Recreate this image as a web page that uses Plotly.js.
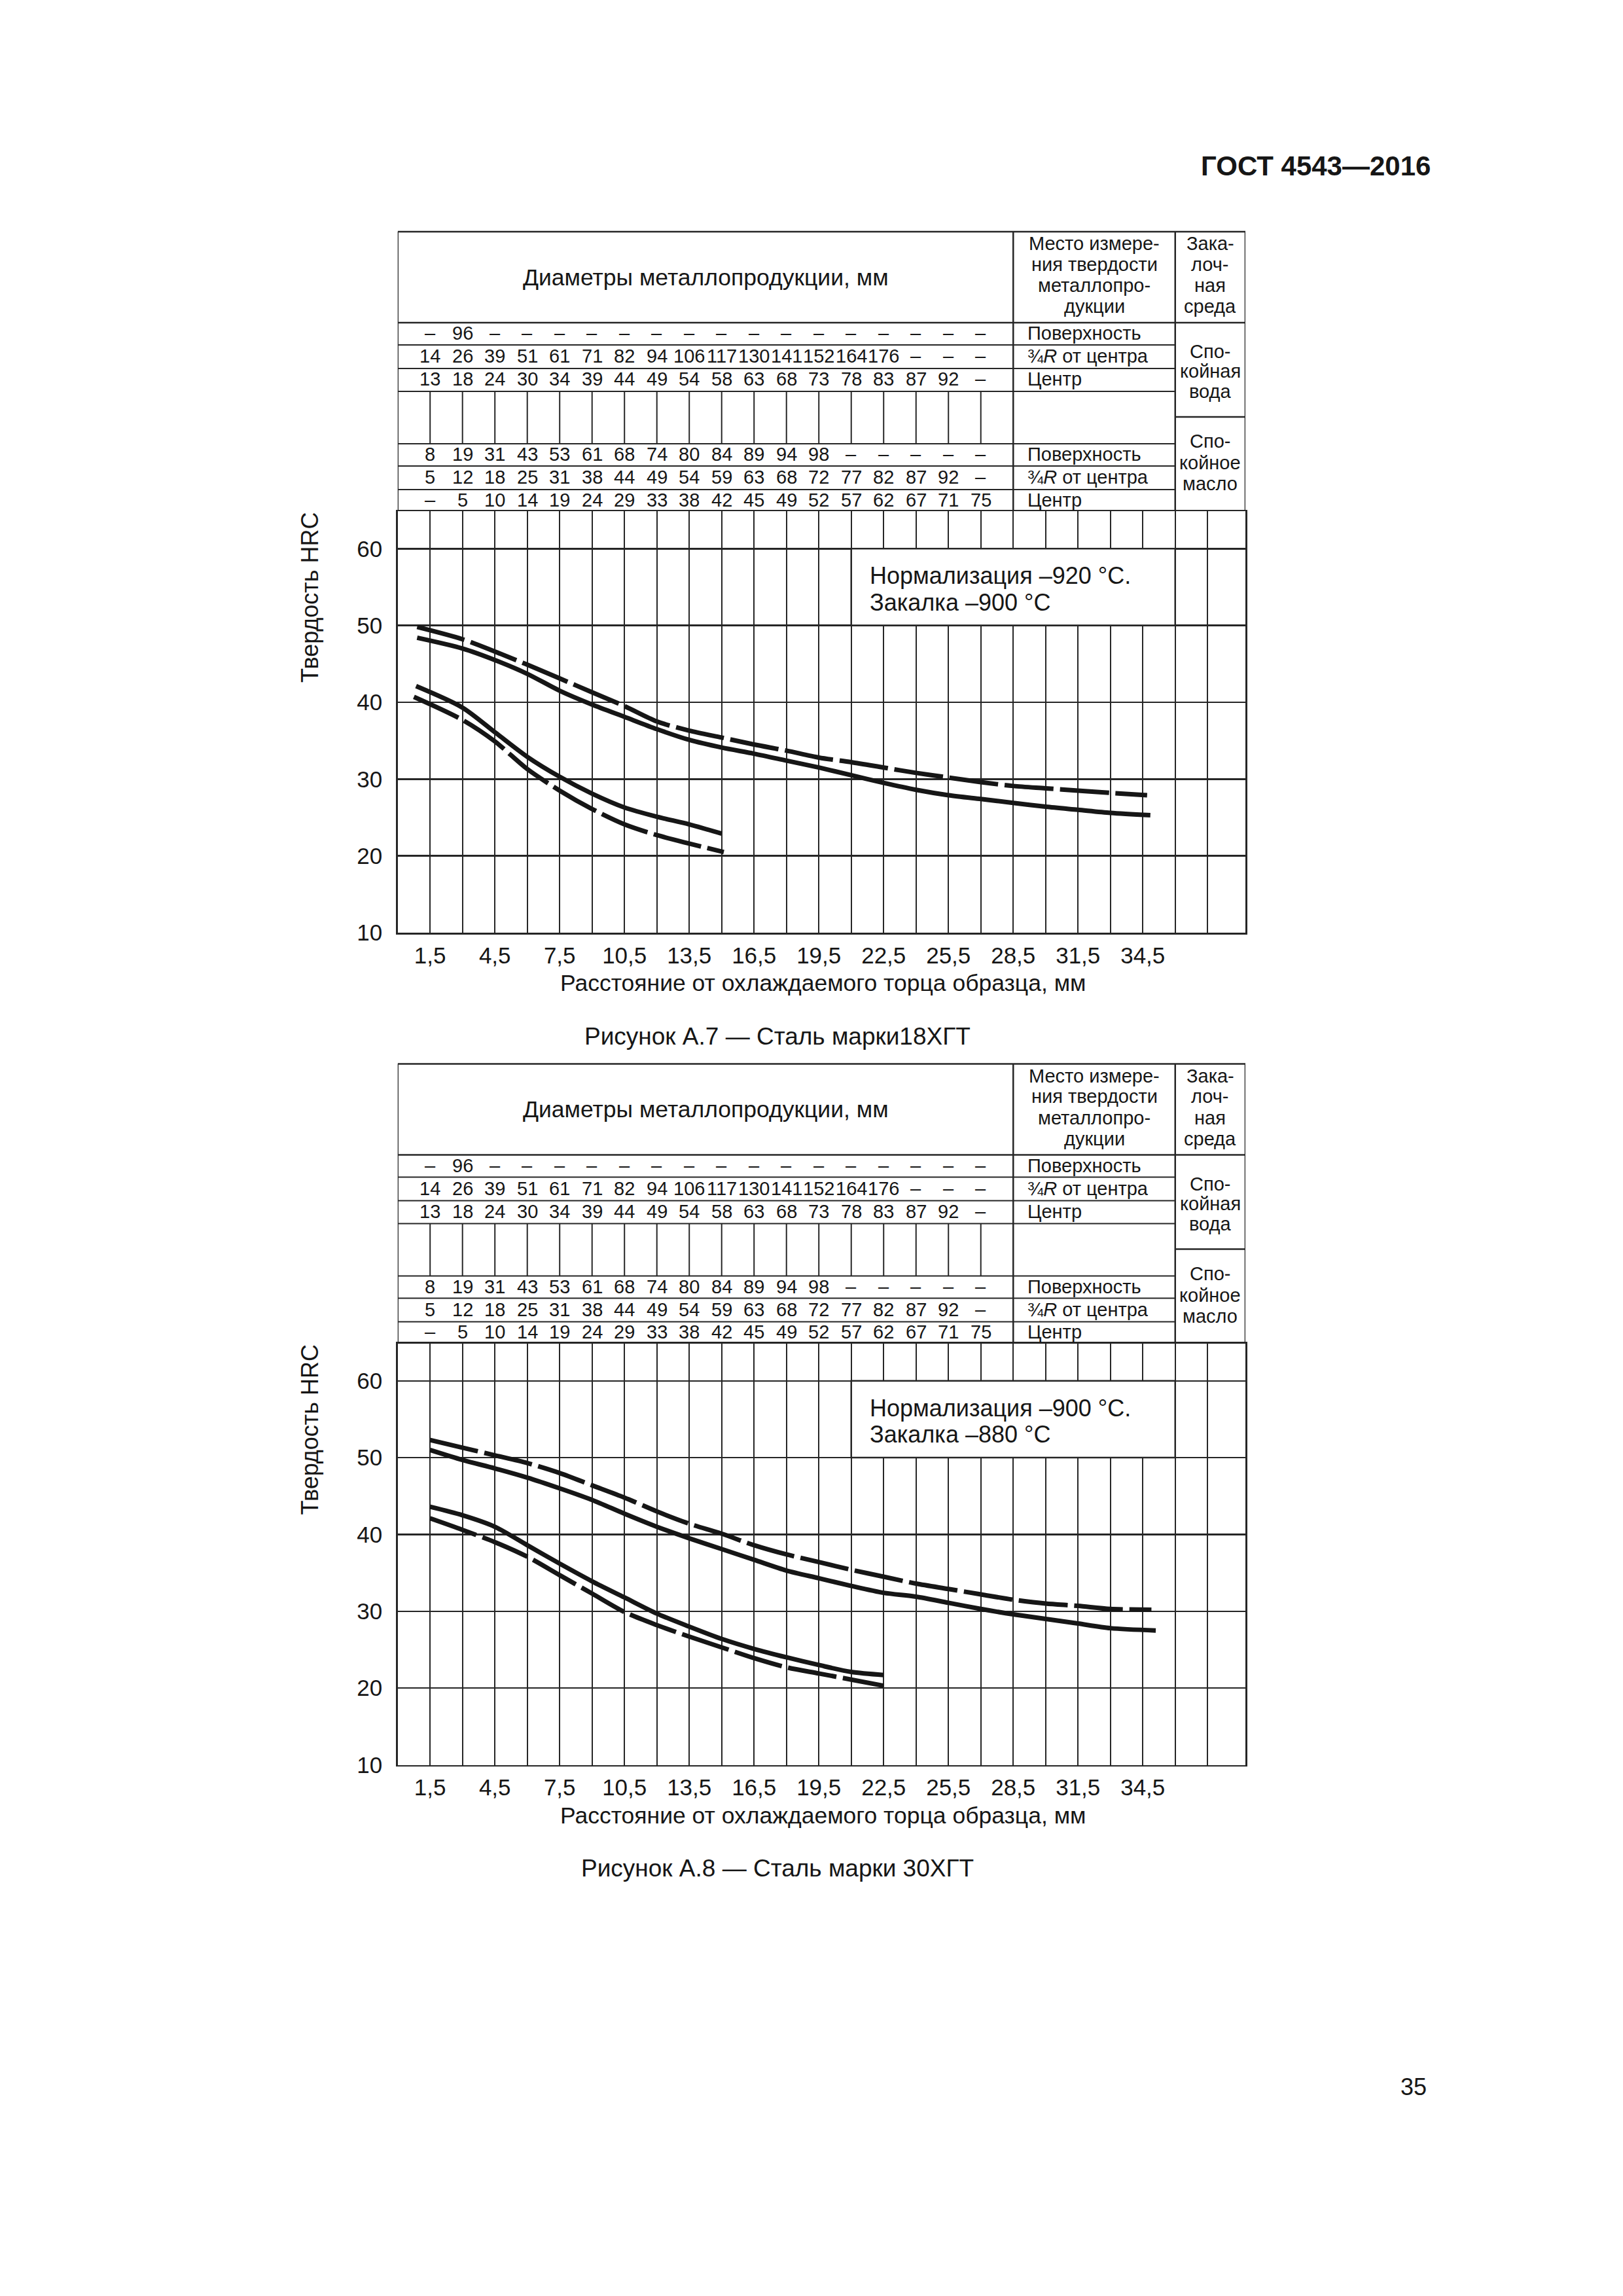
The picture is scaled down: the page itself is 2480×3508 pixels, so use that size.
<!DOCTYPE html>
<html><head><meta charset="utf-8">
<script src="https://cdn.plot.ly/plotly-3.0.1.min.js"></script>
<style>html,body{margin:0;padding:0;background:#fff}</style>
</head><body><div id="chart" style="width:2480px;height:3508px"></div>
<script>
// ---------------- DATA ----------------
const xTickVals = [1.5,3,4.5,6,7.5,9,10.5,12,13.5,15,16.5,18,19.5,21,22.5,24,25.5,27,28.5,30,31.5,33,34.5,36,37.5];
const xTickText = ["1,5","","4,5","","7,5","","10,5","","13,5","","16,5","","19,5","","22,5","","25,5","","28,5","","31,5","","34,5","",""];
const yTickVals = [10,20,30,40,50,60];
const yTickText = ["10","20","30","40","50","60"];

// table rows (diameters, mm)
const waterSurface = ["–","96","–","–","–","–","–","–","–","–","–","–","–","–","–","–","–","–"];
const waterQuarter = ["14","26","39","51","61","71","82","94","106","117","130","141","152","164","176","–","–","–"];
const waterCenter  = ["13","18","24","30","34","39","44","49","54","58","63","68","73","78","83","87","92","–"];
const oilSurface   = ["8","19","31","43","53","61","68","74","80","84","89","94","98","–","–","–","–","–"];
const oilQuarter   = ["5","12","18","25","31","38","44","49","54","59","63","68","72","77","82","87","92","–"];
const oilCenter    = ["–","5","10","14","19","24","29","33","38","42","45","49","52","57","62","67","71","75"];
const placeLabels  = ["Поверхность","¾<i>R</i> от центра","Центр"];

// Figure A.7 — 18ХГТ
const a7UpperX      = [0.9,3,4.5,6,7.5,9,10.5,12,13.5,15,16.5,18,19.5,21,22.5,24,25.5,27,28.5,30,31.5,33,34.7];
const a7UpperDashed = [49.8,48.2,46.6,44.9,43.1,41.3,39.5,37.5,36.3,35.4,34.5,33.7,32.8,32.2,31.5,30.8,30.2,29.6,29.1,28.8,28.5,28.2,27.9];
const a7UpperSolidX = [0.9,3,4.5,6,7.5,9,10.5,12,13.5,15,16.5,18,19.5,21,22.5,24,25.5,27,28.5,30,31.5,33,34.85];
const a7UpperSolid  = [48.4,47.0,45.5,43.7,41.5,39.7,38.1,36.5,35.1,34.1,33.3,32.4,31.5,30.5,29.5,28.6,27.9,27.4,26.9,26.4,26.0,25.6,25.3];
const a7LowerSolidX = [0.85,3,4.5,6,7.5,9,10.5,12,13.5,15];
const a7LowerSolid  = [42.1,39.3,36.1,32.9,30.3,28.1,26.3,25.1,24.1,22.9];
const a7LowerDashedX= [0.75,3,4.5,6,7.5,9,10.5,12,13.5,15.1];
const a7LowerDashed = [40.7,37.7,34.9,31.3,28.5,26.1,24.1,22.7,21.6,20.5];

// Figure A.8 — 30ХГТ
const a8UpperDashedX= [1.5,3,4.5,6,7.5,9,10.5,12,13.5,15,16.5,18,19.5,21,22.5,24,25.5,27,28.5,30,31.5,33,34.9];
const a8UpperDashed = [52.3,51.3,50.3,49.3,48.0,46.4,44.8,43.0,41.4,40.1,38.6,37.4,36.4,35.4,34.5,33.6,32.9,32.2,31.5,31.0,30.7,30.3,30.2];
const a8UpperSolidX = [1.5,3,4.5,6,7.5,9,10.5,12,13.5,15,16.5,18,19.5,21,22.5,24,25.5,27,28.5,30,31.5,33,35.1];
const a8UpperSolid  = [51.0,49.7,48.6,47.4,46.0,44.5,42.7,41.0,39.5,38.1,36.7,35.3,34.3,33.3,32.4,31.9,31.1,30.3,29.6,29.0,28.4,27.8,27.5];
const a8LowerX      = [1.5,3,4.5,6,7.5,9,10.5,12,13.5,15,16.5,18,19.5,21,22.5];
const a8LowerSolid  = [43.6,42.5,41.0,38.6,36.2,33.9,31.8,29.7,28.0,26.4,25.1,24.0,23.0,22.1,21.7];
const a8LowerDashed = [42.1,40.6,39.0,37.1,34.7,32.3,29.9,28.2,26.7,25.3,23.9,22.7,21.9,21.1,20.3];

// ---------------- LAYOUT HELPERS ----------------
const W = 2480, H = 3508;
const P = py => 1 - py / H;
const FONT = "Liberation Sans, Arial, sans-serif";
const INK = "#161616";
const LINE = "#262626";
const X0PX = 607.7, X1PX = 1903, XMAX = 39.25;
const OFF2 = 1271.5;

const shapes = [];
const annotations = [];
const traces = [];

function hline(xr, x0, x1, py, w) {
  shapes.push({type:"line", xref:xr, yref:"paper", x0:x0, x1:x1, y0:P(py), y1:P(py), line:{color:LINE, width:w||2}});
}
function vline(xr, x, py0, py1, w) {
  shapes.push({type:"line", xref:xr, yref:"paper", x0:x, x1:x, y0:P(py0), y1:P(py1), line:{color:LINE, width:w||2}});
}
function txt(xr, x, yr, y, s, size, opts) {
  annotations.push(Object.assign({xref:xr, yref:yr, x:x, y:y, text:s, showarrow:false,
    font:{family:FONT, size:size, color:INK}, xanchor:"center", yanchor:"middle"}, opts||{}));
}

function buildChart(n, off, norm, quench, caption, curves) {
  const xr = n === 1 ? "x" : "x2";
  const yr = n === 1 ? "y" : "y2";
  const tableTop = 354 + off, headBot = 493 + off;
  const r = [527, 563, 598, 678, 712, 748].map(v => v + off);
  const tableBot = 781 + off;
  const mid = 637 + off;
  // outer & column lines of the table
  hline(xr, 0, XMAX, tableTop, 2.5);
  hline(xr, 0, XMAX, headBot, 2.5);
  r.forEach(v => hline(xr, 0, 36, v, 2));
  hline(xr, 36, XMAX, mid, 2.5);
  vline(xr, 0, tableTop, tableBot, 2.5);
  vline(xr, 28.5, tableTop, tableBot, 2.5);
  vline(xr, 36, tableTop, tableBot, 2.5);
  vline(xr, XMAX, tableTop, tableBot, 2.5);
  // grid continuation in the empty row
  const cols = xTickVals.slice(0, 18);
  cols.forEach(x => vline(xr, x, r[2], r[3], 2));

  // header texts
  txt("paper", 1078 / W, "paper", P(424 + off), "Диаметры металлопродукции, мм", 35.5);
  const placeHead = ["Место измере-","ния твердости","металлопро-","дукции"];
  const mediaHead = ["Зака-","лоч-","ная","среда"];
  [372, 404, 436, 468].forEach((py, i) => {
    txt("paper", 1672 / W, "paper", P(py + off), placeHead[i], 29);
    txt("paper", 1849 / W, "paper", P(py + off), mediaHead[i], 29);
  });
  ["Спо-","койная","вода"].forEach((s, i) => txt("paper", 1849 / W, "paper", P([537,567,598][i] + off), s, 29));
  ["Спо-","койное","масло"].forEach((s, i) => txt("paper", 1849 / W, "paper", P([674,707,739][i] + off), s, 29));

  // rows
  const rows = [waterSurface, waterQuarter, waterCenter, oilSurface, oilQuarter, oilCenter];
  const rowMid = [509, 544, 579.5, 694, 729, 763.5];
  rows.forEach((row, ri) => {
    const py = rowMid[ri] + off;
    row.forEach((v, ci) => txt(xr, cols[ci], "paper", P(py), v, 29));
    txt("paper", 1568 / W, "paper", P(py), placeLabels[ri % 3], 29, {xanchor:"left"});
  });

  // box with heat-treatment note
  shapes.push({type:"rect", xref:xr, yref:yr, x0:21, x1:36, y0:50, y1:60, fillcolor:"#ffffff",
    line:{color:LINE, width:2.5}, layer:"above"});
  txt(xr, 21.8, yr, 56.45, norm, 36, {xanchor:"left"});
  txt(xr, 21.8, yr, 53.0, quench, 36, {xanchor:"left"});

  // axis titles and caption
  txt("paper", 473 / W, "paper", P(913 + off), "Твердость HRC", 36, {textangle:-90});
  txt("paper", 1257 / W, "paper", P(1502 + off), "Расстояние от охлаждаемого торца образца, мм", 35.5);
  txt("paper", 1188 / W, "paper", P(1583 + off), caption, 37);

  curves.forEach(c => traces.push({
    x: c.x, y: c.y, xaxis: xr, yaxis: yr, type: "scatter", mode: "lines", hoverinfo: "skip", showlegend: false,
    line: {color: "#161616", width: 7, shape: "spline", smoothing: 0.8, dash: c.dash ? "75px,10px" : "solid"}
  }));
}

buildChart(1, 0, "Нормализация –920 °С.", "Закалка –900 °С", "Рисунок А.7 — Сталь марки18ХГТ", [
  {x:a7UpperX, y:a7UpperDashed, dash:true},
  {x:a7UpperSolidX, y:a7UpperSolid, dash:false},
  {x:a7LowerSolidX, y:a7LowerSolid, dash:false},
  {x:a7LowerDashedX, y:a7LowerDashed, dash:true}
]);
buildChart(2, OFF2, "Нормализация –900 °С.", "Закалка –880 °С", "Рисунок А.8 — Сталь марки 30ХГТ", [
  {x:a8UpperDashedX, y:a8UpperDashed, dash:true},
  {x:a8UpperSolidX, y:a8UpperSolid, dash:false},
  {x:a8LowerX, y:a8LowerSolid, dash:false},
  {x:a8LowerX, y:a8LowerDashed, dash:true}
]);

// page header and number
annotations.push({xref:"paper", yref:"paper", x:2188 / W, y:P(253), text:"<b>ГОСТ 4543—2016</b>", showarrow:false,
  xanchor:"right", yanchor:"middle", font:{family:FONT, size:42, color:INK}});
annotations.push({xref:"paper", yref:"paper", x:2160 / W, y:P(3188), text:"35", showarrow:false,
  xanchor:"center", yanchor:"middle", font:{family:FONT, size:36, color:INK}});

function xAxis() {
  return {domain:[X0PX / W, X1PX / W], range:[0, XMAX], tickmode:"array", tickvals:xTickVals, ticktext:xTickText,
    showgrid:true, gridcolor:LINE, gridwidth:2, zeroline:false, showline:true, mirror:true, linecolor:LINE, linewidth:2.5,
    ticks:"", ticklabelstandoff:2, tickfont:{family:FONT, size:35, color:INK}, fixedrange:true};
}
function yAxis(off, anchor) {
  return {domain:[P(1425 + off), P(781 + off)], range:[10, 64.88], tickmode:"array", tickvals:yTickVals, ticktext:yTickText,
    showgrid:true, gridcolor:LINE, gridwidth:2.5, zeroline:false, showline:true, mirror:true, linecolor:LINE, linewidth:2.5,
    ticks:"", ticklabelstandoff:14, tickfont:{family:FONT, size:35, color:INK}, anchor:anchor, fixedrange:true};
}

const layout = {
  width: W, height: H, margin: {l:0, r:0, t:0, b:0}, paper_bgcolor: "#ffffff", plot_bgcolor: "#ffffff",
  showlegend: false,
  xaxis: Object.assign(xAxis(), {anchor:"y"}),
  yaxis: yAxis(0, "x"),
  xaxis2: Object.assign(xAxis(), {anchor:"y2"}),
  yaxis2: yAxis(OFF2, "x2"),
  shapes: shapes, annotations: annotations
};

Plotly.newPlot("chart", traces, layout, {staticPlot:true, displayModeBar:false});
</script></body></html>
